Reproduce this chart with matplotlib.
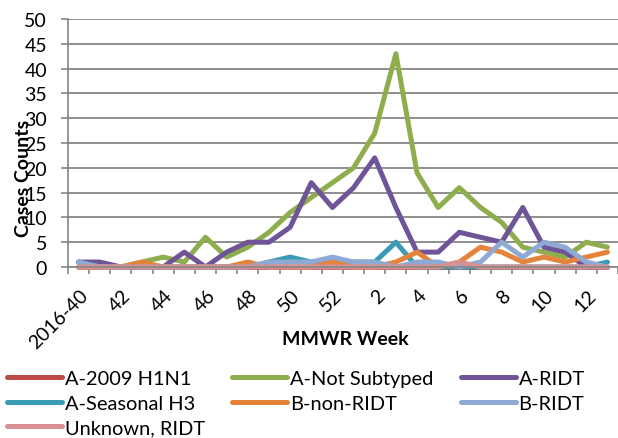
#!/usr/bin/env python3
"""
Weekly influenza case counts by virus type, MMWR week 2016-40 to 2017-13.
"""

import matplotlib
matplotlib.use('Agg')
import matplotlib.pyplot as plt
from matplotlib.lines import Line2D
from matplotlib.transforms import ScaledTranslation

plt.rcParams['font.family'] = ['Lato', 'DejaVu Sans']

# MMWR weeks: 2016-40 .. 2016-52, then 2017-1 .. 2017-13
weeks = list(range(40, 53)) + list(range(1, 14))
tick_labels = ['2016-40', '42', '44', '46', '48', '50', '52',
               '2', '4', '6', '8', '10', '12']

series_names = ['A-2009 H1N1', 'A-Not Subtyped', 'A-RIDT', 'A-Seasonal H3',
                'B-non-RIDT', 'B-RIDT', 'Unknown, RIDT']

h1n1 = [0] * 26
not_subtyped = [0, 0, 0, 1, 2, 1, 6, 2, 4, 7, 11, 14, 17,
                20, 27, 43, 19, 12, 16, 12, 9, 4, 3, 2, 5, 4]
a_ridt = [1, 1, 0, 0, 0, 3, 0, 3, 5, 5, 8, 17, 12,
          16, 22, 12, 3, 3, 7, 6, 5, 12, 4, 3, 0, 0]
seasonal_h3 = [1, 0, 0, 0, 0, 0, 0, 0, 0, 1, 2, 1, 1,
               1, 1, 5, 0, 0, 0, 0, 0, 0, 0, 0, 0, 1]
b_non_ridt = [0, 0, 0, 1, 0, 0, 0, 0, 1, 0, 0, 0, 1,
              0, 0, 1, 3, 0, 1, 4, 3, 1, 2, 1, 2, 3]
b_ridt = [1, 0, 0, 0, 0, 0, 0, 0, 0, 1, 1, 1, 2,
          1, 1, 0, 1, 1, 0, 1, 5, 2, 5, 4, 1, 0]
unknown_ridt = [0, 0, 0, 0, 0, 0, 0, 0, 0, 0, 0, 0, 0,
                0, 0, 0, 0, 0, 1, 0, 0, 0, 0, 0, 0, 0]

colors = ['#BE4B48', '#8EAE4E', '#6F5597', '#3A9BB5',
          '#E3843A', '#8EA9D4', '#D89092']


def main():
    all_series = [h1n1, not_subtyped, a_ridt, seasonal_h3,
                  b_non_ridt, b_ridt, unknown_ridt]
    x = list(range(len(weeks)))

    fig = plt.figure(figsize=(6.18, 4.39), dpi=100)
    ax = fig.add_axes([68 / 618, 1 - 268 / 439, 550 / 618, 248 / 439])

    for vals, name, col in zip(all_series, series_names, colors):
        ax.plot(x, vals, color=col, lw=3.6, label=name,
                solid_joinstyle='round', solid_capstyle='round', clip_on=False)

    ax.set_xlim(-0.5, len(weeks) - 0.5)
    ax.set_ylim(0, 50)
    ax.set_yticks(range(0, 51, 5))
    ax.tick_params(axis='y', labelsize=14, length=5, color='#868686',
                   width=1.2, pad=10)
    ax.yaxis.grid(True, color='#868686', lw=1.3)
    ax.set_axisbelow(True)

    # tick marks between categories, labels on every second week
    ax.set_xticks([i - 0.5 for i in range(len(weeks) + 1)], minor=True)
    ax.tick_params(axis='x', which='minor', length=5, color='#868686', width=1.2)
    ax.set_xticks(x[::2])
    ax.set_xticklabels(tick_labels, rotation=45, ha='right', va='center',
                       rotation_mode='anchor', fontsize=14)
    ax.tick_params(axis='x', which='major', length=0, pad=18)
    shift = ScaledTranslation(7 / 100, 0, fig.dpi_scale_trans)
    for lab in ax.get_xticklabels():
        lab.set_transform(lab.get_transform() + shift)

    for side in ['top', 'right']:
        ax.spines[side].set_visible(False)
    ax.spines['left'].set_color('#868686')
    ax.spines['bottom'].set_color('#868686')
    ax.spines['left'].set_linewidth(1.2)
    ax.spines['bottom'].set_linewidth(1.2)

    fig.text(24 / 618, 1 - 178 / 439, 'Cases Counts', rotation=90,
             ha='center', va='center', fontsize=14, fontweight='bold')
    fig.text(345 / 618, 1 - 340 / 439, 'MMWR Week', ha='center',
             va='center', fontsize=14, fontweight='bold')

    # legend filled row by row, like the original
    order = [0, 3, 6, 1, 4, 2, 5]
    handles = [Line2D([0], [0], color=colors[i], lw=3.6, solid_capstyle='round')
               for i in order]
    labels = [series_names[i] for i in order]
    fig.legend(handles, labels, ncol=3, loc='upper left',
               bbox_to_anchor=(7 / 618, 1 - 371 / 439), frameon=False,
               fontsize=14.4, handlelength=2.75, handletextpad=0.15,
               columnspacing=1.35, labelspacing=0.38, borderaxespad=0,
               borderpad=0)

    fig.savefig('out.png', dpi=100)
    print("Saved out.png")


if __name__ == "__main__":
    main()
